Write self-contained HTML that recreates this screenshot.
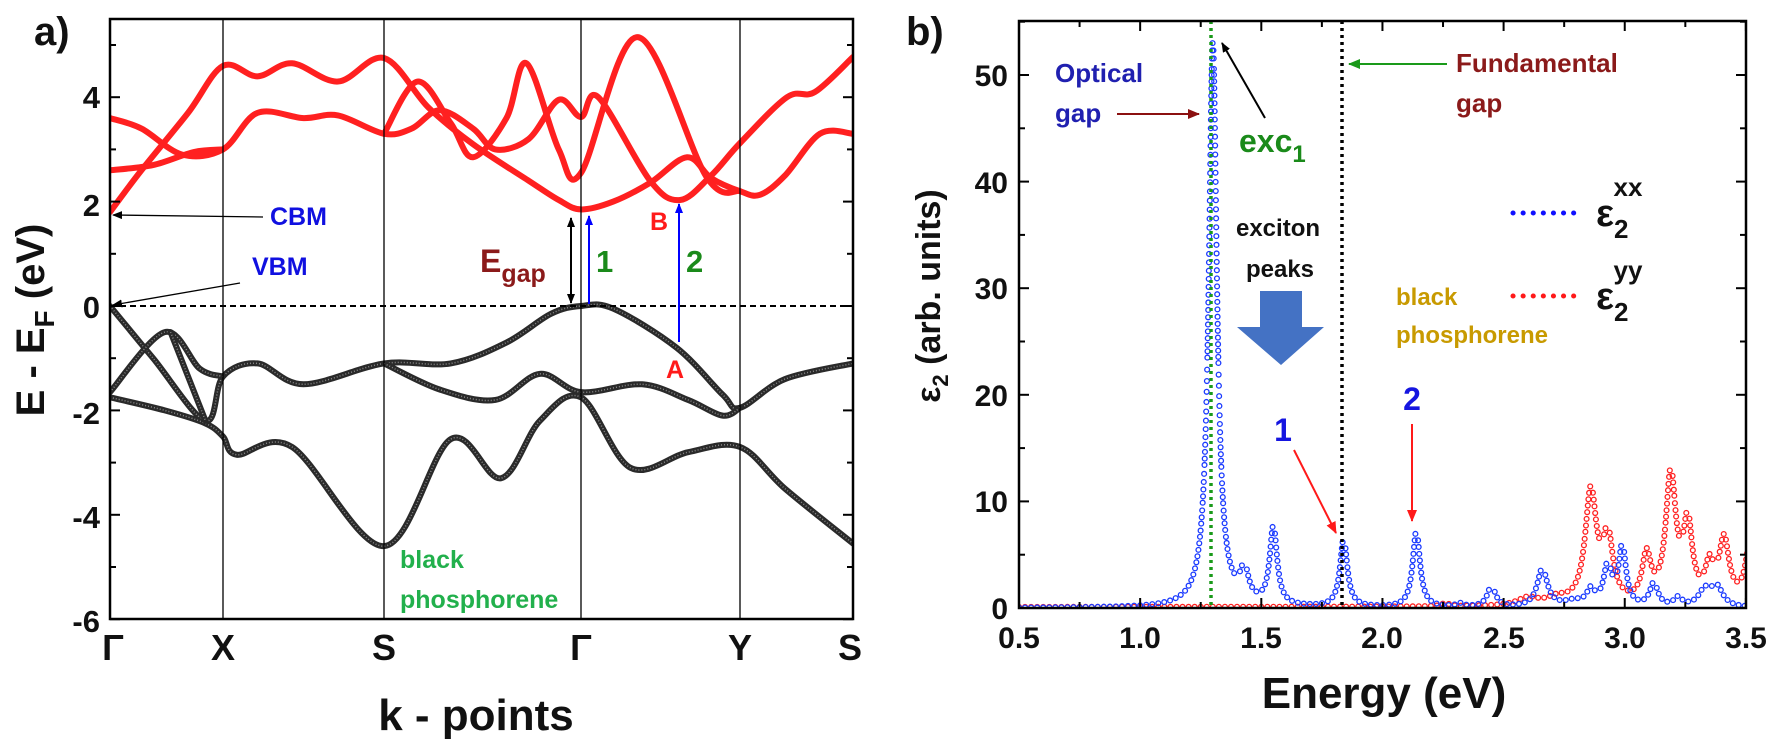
<!DOCTYPE html>
<html><head><meta charset="utf-8"><style>
body{margin:0;background:#fff;}
svg text{font-family:"Liberation Sans",Arial,sans-serif;font-weight:bold;}
</style></head><body>
<svg id="s" width="1769" height="742" viewBox="0 0 1769 742" xmlns="http://www.w3.org/2000/svg">
<defs>
<marker id="ak" markerWidth="10" markerHeight="8" refX="9" refY="4" orient="auto" markerUnits="userSpaceOnUse"><path d="M0,0 L10,4 L0,8 z" fill="#000"/></marker>
<marker id="ab" markerWidth="10" markerHeight="8" refX="9" refY="4" orient="auto" markerUnits="userSpaceOnUse"><path d="M0,0 L10,4 L0,8 z" fill="#0000ff"/></marker>
<marker id="ar" markerWidth="12" markerHeight="10" refX="11" refY="5" orient="auto" markerUnits="userSpaceOnUse"><path d="M0,0 L12,5 L0,10 z" fill="#ff1a1a"/></marker>
<marker id="ad" markerWidth="12" markerHeight="10" refX="11" refY="5" orient="auto" markerUnits="userSpaceOnUse"><path d="M0,0 L12,5 L0,10 z" fill="#8b1010"/></marker>
<marker id="ag" markerWidth="12" markerHeight="10" refX="11" refY="5" orient="auto" markerUnits="userSpaceOnUse"><path d="M0,0 L12,5 L0,10 z" fill="#1a9a1a"/></marker>
<clipPath id="ca"><rect x="110" y="19" width="743" height="600"/></clipPath>
<clipPath id="cb"><rect x="1019" y="21" width="727" height="587"/></clipPath>
</defs>
<g id="bands" clip-path="url(#ca)"></g>
<g stroke="#000" stroke-width="1.3">
<line x1="223" y1="19" x2="223" y2="619"/><line x1="384" y1="19" x2="384" y2="619"/>
<line x1="581" y1="19" x2="581" y2="619"/><line x1="740" y1="19" x2="740" y2="619"/>
</g>
<line x1="110" y1="306" x2="853" y2="306" stroke="#000" stroke-width="2" stroke-dasharray="6,4"/>
<rect x="110" y="19" width="743" height="600" fill="none" stroke="#000" stroke-width="2.5"/>
<g id="ticka" stroke="#000" stroke-width="2"></g>
<g font-size="31" text-anchor="end" fill="#111">
<text x="100" y="108">4</text><text x="100" y="216">2</text><text x="100" y="318">0</text>
<text x="100" y="424">-2</text><text x="100" y="528">-4</text><text x="100" y="632">-6</text>
</g>
<g font-size="36" text-anchor="middle" fill="#111">
<text x="113" y="660" font-family="Liberation Serif" font-weight="normal">Γ</text>
<text x="223" y="660">X</text><text x="384" y="660">S</text>
<text x="581" y="660" font-family="Liberation Serif" font-weight="normal">Γ</text>
<text x="740" y="660">Y</text><text x="850" y="660">S</text>
</g>
<text x="34" y="45" font-size="40" fill="#111">a)</text>
<text x="476" y="730" font-size="44" text-anchor="middle" fill="#111">k - points</text>
<text transform="translate(44,320) rotate(-90)" font-size="40" text-anchor="middle" fill="#111">E - E<tspan font-size="28" dy="10">F</tspan><tspan dy="-10"> (eV)</tspan></text>
<line x1="263" y1="217" x2="113" y2="215" stroke="#000" stroke-width="1.3" marker-end="url(#ak)"/>
<line x1="240" y1="283" x2="113" y2="305" stroke="#000" stroke-width="1.3" marker-end="url(#ak)"/>
<text x="270" y="225" font-size="25" fill="#1010e0">CBM</text>
<text x="252" y="275" font-size="25" fill="#1010e0">VBM</text>
<text x="480" y="272" font-size="32" fill="#8b1a1a">E<tspan font-size="25" dy="10">gap</tspan></text>
<line x1="571" y1="260" x2="571" y2="218" stroke="#000" stroke-width="2" marker-end="url(#ak)"/>
<line x1="571" y1="260" x2="571" y2="303" stroke="#000" stroke-width="2" marker-end="url(#ak)"/>
<line x1="589" y1="304" x2="589" y2="216" stroke="#0000ff" stroke-width="2" marker-end="url(#ab)"/>
<line x1="679" y1="342" x2="679" y2="204" stroke="#0000ff" stroke-width="2" marker-end="url(#ab)"/>
<text x="596" y="272" font-size="31" fill="#1a8a1a">1</text>
<text x="686" y="272" font-size="31" fill="#1a8a1a">2</text>
<text x="650" y="230" font-size="25" fill="#ff1a1a">B</text>
<text x="666" y="378" font-size="25" fill="#ff1a1a">A</text>
<text x="400" y="568" font-size="25" fill="#22b04c">black</text>
<text x="400" y="608" font-size="25" fill="#22b04c">phosphorene</text>

<g id="spec" clip-path="url(#cb)"></g>
<line x1="1211" y1="21" x2="1211" y2="608" stroke="#1a9a1a" stroke-width="3.5" stroke-dasharray="3,4"/>
<line x1="1342" y1="21" x2="1342" y2="608" stroke="#000" stroke-width="3.5" stroke-dasharray="3,4"/>
<rect x="1019" y="21" width="727" height="587" fill="none" stroke="#000" stroke-width="2.5"/>
<g id="tickb" stroke="#000" stroke-width="2"></g>
<g font-size="30" text-anchor="end" fill="#111">
<text x="1008" y="619">0</text><text x="1008" y="512">10</text><text x="1008" y="406">20</text>
<text x="1008" y="299">30</text><text x="1008" y="193">40</text><text x="1008" y="86">50</text>
</g>
<g font-size="30" text-anchor="middle" fill="#111">
<text x="1019" y="648">0.5</text><text x="1140" y="648">1.0</text><text x="1261" y="648">1.5</text>
<text x="1382" y="648">2.0</text><text x="1504" y="648">2.5</text><text x="1625" y="648">3.0</text><text x="1746" y="648">3.5</text>
</g>
<text x="906" y="45" font-size="40" fill="#111">b)</text>
<text x="1384" y="708" font-size="44" text-anchor="middle" fill="#111">Energy (eV)</text>
<text transform="translate(940,296) rotate(-90)" font-size="34" text-anchor="middle" fill="#111">ε<tspan font-size="22" dy="8">2</tspan><tspan dy="-8"> (arb. units)</tspan></text>
<text x="1055" y="82" font-size="26" fill="#2020b0">Optical</text>
<text x="1055" y="122" font-size="26" fill="#2020b0">gap</text>
<line x1="1117" y1="114" x2="1199" y2="114" stroke="#8b1010" stroke-width="2" marker-end="url(#ad)"/>
<text x="1456" y="72" font-size="26" fill="#8b1a1a">Fundamental</text>
<text x="1456" y="112" font-size="26" fill="#8b1a1a">gap</text>
<line x1="1447" y1="64" x2="1349" y2="64" stroke="#1a9a1a" stroke-width="2" marker-end="url(#ag)"/>
<line x1="1265" y1="118" x2="1222" y2="43" stroke="#000" stroke-width="2" marker-end="url(#ak)"/>
<text x="1239" y="152" font-size="32" fill="#1a8a1a">exc<tspan font-size="24" dy="10">1</tspan></text>
<text x="1278" y="236" font-size="24" text-anchor="middle" fill="#111">exciton</text>
<text x="1280" y="277" font-size="24" text-anchor="middle" fill="#111">peaks</text>
<path d="M1260,291 H1302 V327 H1324 L1281,365 L1237,327 H1260 Z" fill="#4472c4"/>
<text x="1283" y="441" font-size="32" text-anchor="middle" fill="#1515e0">1</text>
<text x="1412" y="410" font-size="32" text-anchor="middle" fill="#1515e0">2</text>
<line x1="1294" y1="450" x2="1336" y2="533" stroke="#ff1a1a" stroke-width="2" marker-end="url(#ar)"/>
<line x1="1412" y1="424" x2="1412" y2="521" stroke="#ff1a1a" stroke-width="2" marker-end="url(#ar)"/>
<text x="1396" y="305" font-size="24" fill="#c89a00">black</text>
<text x="1396" y="343" font-size="24" fill="#c89a00">phosphorene</text>
<line x1="1513" y1="213" x2="1580" y2="213" stroke="#1010ff" stroke-width="5" stroke-dasharray="0.1,10" stroke-linecap="round"/>
<line x1="1513" y1="296" x2="1580" y2="296" stroke="#ff1a1a" stroke-width="5" stroke-dasharray="0.1,10" stroke-linecap="round"/>
<text x="1596" y="226" font-size="38" fill="#111" font-weight="normal">ε<tspan font-size="26" font-weight="bold" dy="12">2</tspan><tspan font-size="26" font-weight="bold" dx="-15" dy="-42">xx</tspan></text>
<text x="1596" y="309" font-size="38" fill="#111" font-weight="normal">ε<tspan font-size="26" font-weight="bold" dy="12">2</tspan><tspan font-size="26" font-weight="bold" dx="-15" dy="-42">yy</tspan></text>
</svg>
<script>
var NS="http://www.w3.org/2000/svg";
function el(t,a,p){var e=document.createElementNS(NS,t);for(var k in a)e.setAttribute(k,a[k]);p.appendChild(e);return e;}
var ta=document.getElementById('ticka');
for(var E=-6;E<=5;E++){var y=306-52.2*E;var L=(E%2==0)?10:6;el('line',{x1:110,y1:y,x2:110+L,y2:y},ta);el('line',{x1:853,y1:y,x2:853-L,y2:y},ta);}
var tb=document.getElementById('tickb');
for(var v=0;v<=55;v+=5){var y=608-10.66*v;var L=(v%10==0)?10:6;el('line',{x1:1019,y1:y,x2:1019+L,y2:y},tb);el('line',{x1:1746,y1:y,x2:1746-L,y2:y},tb);}
for(var e=0.5;e<=3.51;e+=0.25){var x=1019+(e-0.5)*242.3;var L=(Math.round(e*4)%2==0)?10:6;el('line',{x1:x,y1:608,x2:x,y2:608-L},tb);el('line',{x1:x,y1:21,x2:x,y2:21+L},tb);}
var ov=[103,200,340,517,655,768],rl=[110,223,384,581,740,853];
function mx(x){for(var i=0;i<5;i++){if(x<=ov[i+1]||i==4){return rl[i]+(x-ov[i])*(rl[i+1]-rl[i])/(ov[i+1]-ov[i]);}}}
function my(E){return 306-52.2*E;}
function path(pts){var P=pts.map(function(p){return [mx(p[0]),my(p[1])];});var d="M"+P[0][0]+","+P[0][1];
for(var i=0;i<P.length-1;i++){var p0=P[i-1]||P[i],p1=P[i],p2=P[i+1],p3=P[i+2]||P[i+1];
d+=" C"+(p1[0]+(p2[0]-p0[0])/6)+","+(p1[1]+(p2[1]-p0[1])/6)+" "+(p2[0]-(p3[0]-p1[0])/6)+","+(p2[1]-(p3[1]-p1[1])/6)+" "+p2[0]+","+p2[1];}return d;}
var g=document.getElementById('bands');
var red=[
[[103,1.8],[130,2.6],[170,3.7],[200,4.6],[230,4.4],[260,4.65],[300,4.3],[340,4.75],[380,3.8],[420,3.1],[470,2.4],[497,2.03],[517,1.85],[545,2.0],[577,2.36],[609,2.85],[630,2.45],[655,2.2],[675,2.13],[700,2.5],[735,3.3],[768,3.3]],
[[103,3.6],[130,3.4],[165,2.9],[200,3.0],[230,3.7],[270,3.6],[300,3.65],[340,3.3],[365,3.4],[390,3.75],[420,3.4],[440,3.0],[470,3.2],[497,3.95],[517,3.62],[532,4.0],[577,2.4],[603,2.03],[630,2.5],[655,3.12],[702,4.0],[730,4.1],[768,4.77]],
[[103,2.6],[140,2.7],[175,2.95],[200,3.0]],
[[340,3.3],[370,4.3],[400,3.5],[420,2.85],[450,3.6],[468,4.65],[497,3.0],[517,2.55],[566,5.15],[626,2.47],[655,2.2]]
];
var blk=[
[[103,0],[140,-1.0],[185,-2.2],[200,-1.35],[230,-1.1],[270,-1.5],[340,-1.1],[400,-1.1],[450,-0.7],[490,-0.15],[517,0],[545,-0.05],[600,-0.8],[640,-1.7],[655,-1.95],[700,-1.4],[768,-1.1]],
[[103,-1.65],[150,-0.5],[180,-1.2],[200,-1.35]],
[[340,-1.1],[390,-1.6],[440,-1.8],[480,-1.3],[517,-1.65],[570,-1.5],[610,-1.8],[640,-2.1],[655,-1.95]],
[[103,-1.75],[150,-2.0],[185,-2.25],[200,-2.5],[212,-2.85],[260,-2.7],[340,-4.6],[400,-2.55],[445,-3.3],[480,-2.2],[517,-1.75],[560,-3.1],[610,-2.8],[655,-2.7],[700,-3.5],[768,-4.55]],
[[155,-0.5],[185,-2.2]]
];
red.forEach(function(p){el('path',{d:path(p),fill:'none',stroke:'#ff2020','stroke-width':6,'stroke-linecap':'round'},g);});
blk.forEach(function(p){el('path',{d:path(p),fill:'none',stroke:'#2a2a2a','stroke-width':6,'stroke-linecap':'round'},g);
el('path',{d:path(p),fill:'none',stroke:'#888','stroke-width':1.5,'stroke-dasharray':'1,2'},g);});
function lor(E,pk){var s=0;pk.forEach(function(p){s+=p[1]/(1+Math.pow((E-p[0])/p[2],2));});return s;}
var bp=[[1.30,53,0.02],[1.43,3.0,0.02],[1.55,7.4,0.018],[1.84,6.4,0.018],[2.14,7.2,0.018],[2.32,0.3,0.02],[2.45,2.0,0.02],[2.66,3.6,0.025],[2.79,0.5,0.05],[2.86,1.4,0.02],[2.93,3.8,0.02],[2.99,5.6,0.018],[3.12,2.2,0.02],[3.22,0.8,0.02],[3.33,1.5,0.03],[3.38,1.8,0.03]];
var rp=[[2.26,0.3,0.02],[2.6,0.7,0.05],[2.72,0.6,0.05],[2.86,10.5,0.028],[2.93,6,0.025],[3.09,4.3,0.022],[3.19,12,0.025],[3.26,7.2,0.022],[3.35,3.2,0.022],[3.41,5.8,0.025],[3.52,6,0.025]];
var sg=document.getElementById('spec');
function X(E){return 1019+(E-0.5)*242.3;}
function draw(pk,col,base){var lx=-99,ly=-99;for(var E=0.5;E<=3.52;E+=0.0005){var v=lor(E,pk)+base(E);var x=X(E),y=608-10.66*v;
if(Math.hypot(x-lx,y-ly)>=6){el('circle',{cx:x,cy:y,r:2.4,fill:'none',stroke:col,'stroke-width':1.3},sg);lx=x;ly=y;}}}
draw(rp,'#ff2020',function(E){return 0.1;});
draw(bp,'#1a3aff',function(E){return 0;});
</script>
</body></html>
